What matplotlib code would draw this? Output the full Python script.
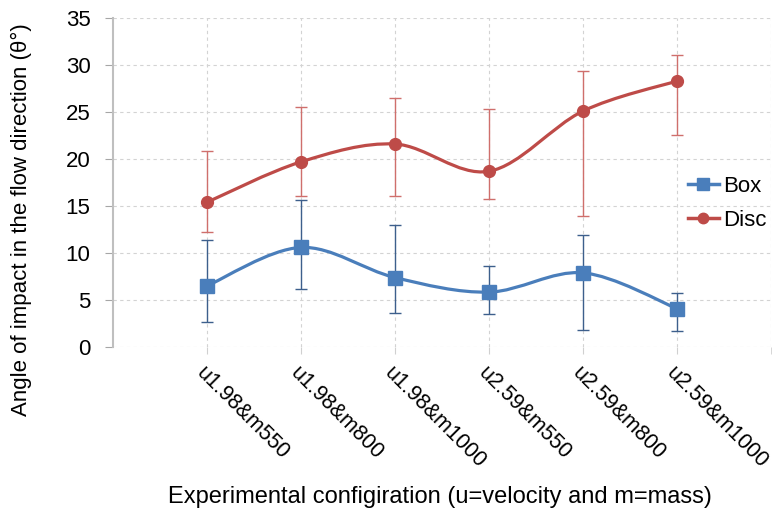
import numpy as np
import matplotlib
matplotlib.use("Agg")
import matplotlib.pyplot as plt
from matplotlib.path import Path
from matplotlib.patches import PathPatch
from matplotlib.lines import Line2D

plt.rcParams['font.family'] = ['Liberation Sans', 'DejaVu Sans']

configs = ['u1.98&m550', 'u1.98&m800', 'u1.98&m1000',
           'u2.59&m550', 'u2.59&m800', 'u2.59&m1000']

box = [6.5, 10.6, 7.4, 5.85, 7.9, 4.1]
box_hi = [11.4, 15.6, 13.0, 8.6, 11.9, 5.8]
box_lo = [2.7, 6.2, 3.6, 3.5, 1.8, 1.7]

disc = [15.4, 19.7, 21.6, 18.7, 25.1, 28.3]
disc_hi = [20.9, 25.5, 26.5, 25.3, 29.4, 31.1]
disc_lo = [12.2, 16.1, 16.1, 15.8, 13.9, 22.6]


def smooth_path(xs, ys):
    # excel-like smoothed line (catmull-rom as cubic bezier)
    pts = np.column_stack([xs, ys]).astype(float)
    n = len(pts)
    verts = [pts[0]]
    codes = [Path.MOVETO]
    for i in range(n - 1):
        p0 = pts[max(i - 1, 0)]
        p1 = pts[i]
        p2 = pts[i + 1]
        p3 = pts[min(i + 2, n - 1)]
        verts += [p1 + (p2 - p0) / 6, p2 - (p3 - p1) / 6, p2]
        codes += [Path.CURVE4] * 3
    return Path(verts, codes)


blue = '#4a7ebb'
red = '#be4b48'

fig = plt.figure(figsize=(7.78, 5.15), dpi=100)
ax = fig.add_axes([0.145, 0.326, 0.846, 0.639])

x = np.arange(1, len(configs) + 1)

for vals, hi, lo, col, ecol, mk, ms in [
        (disc, disc_hi, disc_lo, red, '#cf6f6c', 'o', 8.5),
        (box, box_hi, box_lo, blue, '#3d5f8c', 's', 9.5)]:
    v = np.array(vals)
    ax.errorbar(x, v, yerr=[v - np.array(lo), np.array(hi) - v], fmt='none',
                ecolor=ecol, elinewidth=1.0, capsize=4, capthick=1.0, zorder=2)
    ax.add_patch(PathPatch(smooth_path(x, v), facecolor='none', edgecolor=col,
                           lw=2.3, zorder=3))
    ax.plot(x, v, linestyle='none', marker=mk, ms=ms, color=col, zorder=4)

ax.set_xlim(0, 7)
ax.set_ylim(0, 35)
ax.set_yticks(range(0, 36, 5))
ax.set_xticks(x)
ax.set_xticklabels(configs, rotation=-45, ha='left', va='top',
                   rotation_mode='anchor', fontsize=15.5)
ax.tick_params(axis='y', labelsize=16, length=6, color='#a6a6a6', pad=10)
ax.tick_params(axis='x', length=5, color='#d0d0d0', pad=6)

ax.set_xticks([7], minor=True)
ax.grid(True, which='both', linestyle=(0, (3, 3)), color='#d3d3d3', lw=0.8)
ax.set_axisbelow(True)
for s in ['top', 'right', 'bottom']:
    ax.spines[s].set_visible(False)
ax.spines['left'].set_color('#bfbfbf')
ax.spines['left'].set_linewidth(1.5)
ax.tick_params(axis='x', which='minor', length=5, color='#d0d0d0')

fig.text(0.028, 0.573, 'Angle of impact in the flow direction (θ°)',
         rotation=90, ha='center', va='center', fontsize=16)
fig.text(0.565, 0.035, 'Experimental configiration (u=velocity and m=mass)',
         ha='center', va='center', fontsize=17)

handles = [Line2D([], [], color=blue, marker='s', ms=8, lw=2.5),
           Line2D([], [], color=red, marker='o', ms=7.5, lw=2.5)]
fig.legend(handles, ['Box', 'Disc'], loc='center left',
           bbox_to_anchor=(0.884, 0.605), frameon=False, fontsize=16,
           handlelength=1.4, handletextpad=0.2, labelspacing=0.6,
           borderpad=0, borderaxespad=0)

fig.savefig('out.png', dpi=100)
